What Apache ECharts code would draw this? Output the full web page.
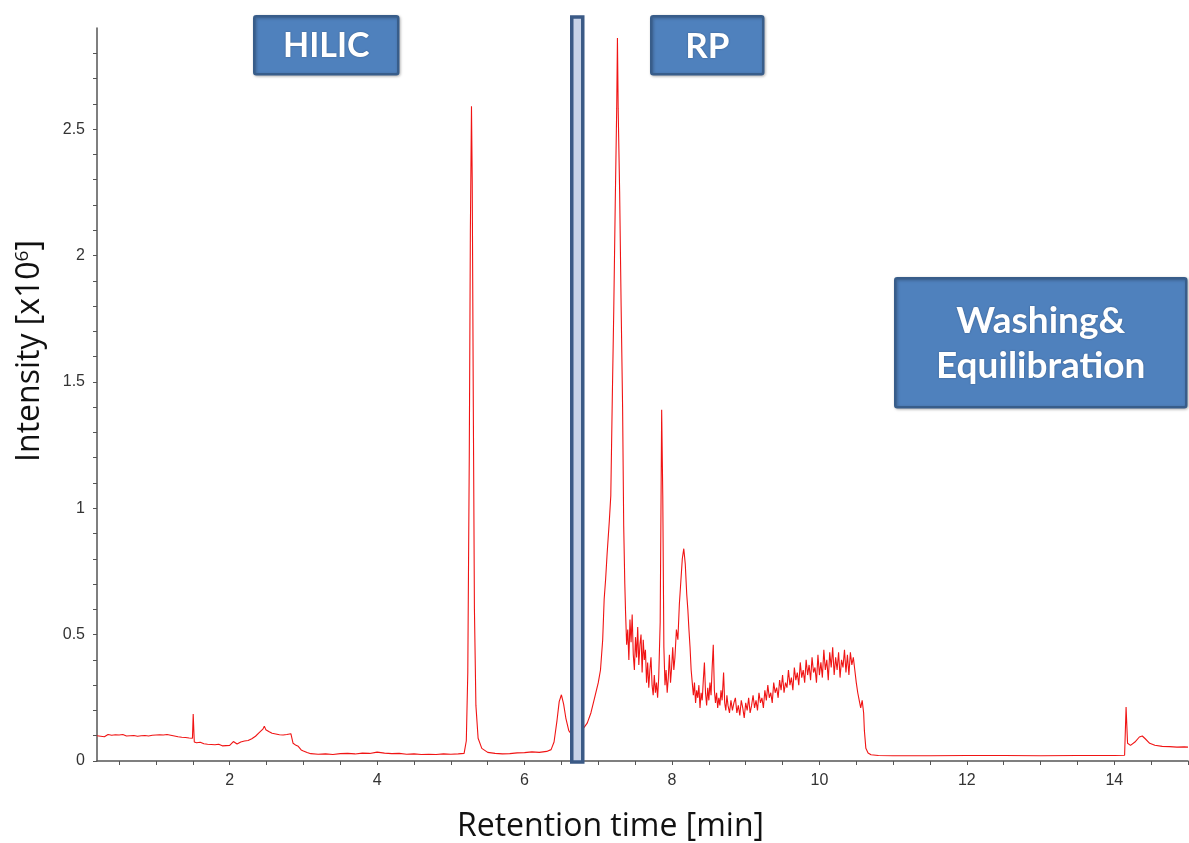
<!DOCTYPE html>
<html>
<head>
<meta charset="utf-8">
<script src="https://cdn.jsdelivr.net/npm/echarts@6/dist/echarts.min.js"></script>
<style>
html,body{margin:0;padding:0;background:#fff;}
#chart{width:1189px;height:843px;}
</style>
</head>
<body>
<div id="chart"></div>
<script>
// ---- Data (retention time [min], intensity [x10^6]) ----
const hilicBaseline = [
  [0.200,0.100],[0.225,0.104],[0.250,0.098],[0.275,0.103],[0.300,0.096],[0.325,0.101],[0.350,0.105],[0.375,0.099],
  [0.400,0.102],[0.425,0.097],[0.450,0.104],[0.475,0.100],[0.500,0.103],[0.525,0.098],[0.550,0.105],[0.575,0.101],
  [0.600,0.099],[0.625,0.104],[0.650,0.100],[0.675,0.106],[0.700,0.101],[0.725,0.104],[0.750,0.098],[0.775,0.103],
  [0.800,0.100],[0.825,0.106],[0.850,0.101],[0.875,0.104],[0.900,0.099],[0.925,0.105],[0.950,0.102],[0.975,0.108],
  [1.000,0.103],[1.025,0.099],[1.050,0.104],[1.075,0.097],[1.100,0.103],[1.125,0.100],[1.150,0.105],[1.175,0.099],
  [1.200,0.102],[1.225,0.096],[1.250,0.099],[1.275,0.094],[1.300,0.096],[1.325,0.092],[1.350,0.094],[1.375,0.091],
  [1.400,0.093],[1.425,0.089],[1.450,0.091],[1.475,0.088],[1.495,0.090],[1.505,0.186],[1.52,0.075],[1.55,0.072],
  [1.575,0.070],[1.60,0.074],[1.625,0.069],[1.65,0.068],[1.675,0.071],[1.70,0.066],[1.725,0.068],[1.75,0.065],
  [1.775,0.063],[1.80,0.064],[1.825,0.061],[1.85,0.066],[1.875,0.062],[1.90,0.060],[1.925,0.063],[1.95,0.061],
  [1.975,0.059],[2.00,0.062],[2.025,0.068],[2.05,0.077],[2.075,0.070],[2.10,0.067],[2.125,0.072],[2.15,0.075],
  [2.175,0.071],[2.20,0.079],[2.225,0.077],[2.25,0.081],[2.275,0.084],[2.30,0.088],[2.325,0.092],[2.35,0.098],
  [2.375,0.104],[2.40,0.112],[2.425,0.118],[2.45,0.126],[2.47,0.138],[2.49,0.124],[2.51,0.120],[2.53,0.117],
  [2.55,0.114],[2.575,0.110],[2.60,0.113],[2.625,0.107],[2.65,0.111],[2.675,0.104],[2.70,0.109],[2.725,0.103],
  [2.75,0.107],[2.775,0.105],[2.80,0.112],[2.83,0.108],[2.86,0.070],[2.90,0.062],[2.93,0.058],[2.97,0.044],
  [3.00,0.040],[3.05,0.034],[3.10,0.029],[3.20,0.027],[3.30,0.028],[3.40,0.026],[3.50,0.029],[3.60,0.030],
  [3.70,0.028],[3.80,0.031],[3.90,0.030],[4.00,0.035],[4.10,0.031],[4.20,0.029],[4.30,0.030],[4.40,0.027],
  [4.50,0.028],[4.60,0.026],[4.70,0.027],[4.80,0.026],[4.90,0.028],[5.00,0.027],[5.10,0.028],[5.18,0.030]
];
const hilicPeaks = [
  [5.21,0.08],[5.23,0.35],[5.25,1.20],[5.265,2.10],[5.28,2.59],[5.29,2.30],[5.305,1.40],[5.32,0.60],
  [5.34,0.22],[5.37,0.09],[5.42,0.05],[5.50,0.034],[5.60,0.030],[5.70,0.028],[5.80,0.029],[5.90,0.032],
  [6.00,0.033],[6.10,0.036],[6.20,0.034],[6.30,0.038],[6.36,0.045],[6.40,0.075],[6.44,0.16],[6.47,0.235],
  [6.50,0.262],[6.53,0.225],[6.56,0.17],[6.60,0.12],[6.65,0.10]
];
const rpPeaks = [
  [6.70,0.11],[6.75,0.12],[6.80,0.13],[6.85,0.15],[6.90,0.19],[6.95,0.25],[7.00,0.31],[7.03,0.36],
  [7.06,0.48],[7.08,0.64],[7.10,0.72],[7.12,0.82],[7.15,0.95],[7.17,1.05],[7.19,1.43],[7.21,1.78],
  [7.23,2.20],[7.25,2.58],[7.26,2.86],[7.27,2.58],[7.29,2.25],[7.31,1.80],[7.33,1.40],[7.345,0.93],
  [7.36,0.70],[7.37,0.59],[7.385,0.46],[7.40,0.52],[7.415,0.40],[7.43,0.56],[7.445,0.47],[7.46,0.58],
  [7.475,0.42],[7.49,0.36],[7.505,0.49],[7.52,0.41],[7.535,0.53],[7.55,0.38],[7.565,0.46],[7.58,0.50],
  [7.595,0.35],[7.61,0.48],[7.625,0.40],[7.64,0.44],[7.655,0.31],[7.67,0.39],[7.685,0.29],[7.70,0.36],
  [7.715,0.41],[7.73,0.30],[7.745,0.26],[7.76,0.34],[7.775,0.27],[7.79,0.31],[7.805,0.25],[7.82,0.33],
  [7.84,0.55],[7.86,1.39],[7.875,1.05],[7.89,0.45],[7.905,0.30],[7.92,0.36],[7.935,0.27],[7.95,0.33],
  [7.965,0.42],[7.98,0.31],[7.995,0.37],[8.01,0.45],[8.025,0.36],[8.04,0.41],[8.06,0.52],[8.08,0.48],
  [8.10,0.62],[8.12,0.71],[8.14,0.80],[8.16,0.84],[8.18,0.78],[8.20,0.66],[8.215,0.60],[8.23,0.52],
  [8.245,0.45],[8.26,0.36],[8.275,0.31],[8.29,0.26],[8.305,0.31],[8.32,0.23],[8.335,0.28],[8.35,0.25],
  [8.365,0.30],[8.38,0.21],[8.395,0.27],[8.41,0.24],[8.425,0.32],[8.44,0.39],[8.455,0.27],[8.47,0.22],
  [8.485,0.29],[8.50,0.24],[8.515,0.31],[8.53,0.26],[8.545,0.37],[8.56,0.46],[8.575,0.28],[8.59,0.23],
  [8.605,0.27],[8.62,0.21],[8.635,0.25],[8.65,0.22],[8.665,0.28],[8.68,0.24],[8.70,0.35],[8.715,0.23],
  [8.73,0.20],[8.745,0.26],[8.76,0.22],[8.78,0.19]
];
const rpHump = [
  [8.80,0.24],[8.82,0.20],[8.84,0.23],[8.86,0.25],[8.88,0.19],[8.90,0.22],[8.92,0.18],[8.94,0.24],
  [8.96,0.21],[8.98,0.17],[9.00,0.23],[9.02,0.20],[9.04,0.25],[9.06,0.19],[9.08,0.22],[9.10,0.26],
  [9.12,0.21],[9.14,0.24],[9.16,0.20],[9.18,0.27],[9.20,0.23],[9.22,0.25],[9.24,0.21],[9.26,0.28],
  [9.28,0.24],[9.30,0.30],[9.32,0.25],[9.34,0.27],[9.36,0.23],[9.38,0.31],[9.40,0.27],[9.42,0.29],
  [9.44,0.25],[9.46,0.32],[9.48,0.28],[9.50,0.34],[9.52,0.27],[9.54,0.31],[9.56,0.29],[9.58,0.36],
  [9.60,0.30],[9.62,0.33],[9.64,0.28],[9.66,0.37],[9.68,0.32],[9.70,0.35],[9.72,0.30],[9.74,0.39],
  [9.76,0.33],[9.78,0.36],[9.80,0.31],[9.82,0.40],[9.84,0.34],[9.86,0.38],[9.88,0.32],[9.90,0.41],
  [9.92,0.35],[9.94,0.37],[9.96,0.31],[9.98,0.42],[10.00,0.34],[10.02,0.39],[10.04,0.33],[10.06,0.44],
  [10.08,0.36],[10.10,0.40],[10.12,0.32],[10.14,0.43],[10.16,0.37],[10.18,0.45],[10.20,0.34],[10.22,0.41],
  [10.24,0.36],[10.26,0.43],[10.28,0.33],[10.30,0.40],[10.32,0.37],[10.34,0.44],[10.36,0.35],[10.38,0.42],
  [10.40,0.34],[10.42,0.43],[10.44,0.38],[10.46,0.41],[10.48,0.36],[10.50,0.31],[10.52,0.27],[10.54,0.24],
  [10.56,0.21],[10.58,0.24],[10.60,0.19],[10.61,0.12],[10.63,0.05],[10.66,0.032]
];
const washing = [
  [10.70,0.025],[10.80,0.022],[11.00,0.021],[11.50,0.021],[12.00,0.022],[12.50,0.022],[13.00,0.021],
  [13.50,0.022],[14.00,0.022],[14.14,0.023],[14.16,0.214],[14.18,0.070],[14.22,0.062],[14.28,0.075],
  [14.34,0.095],[14.38,0.099],[14.42,0.088],[14.48,0.070],[14.55,0.062],[14.65,0.058],[14.75,0.057],
  [14.85,0.055],[14.95,0.056],[15.00,0.055]
];
const xLabelValues = [2, 4, 6, 8, 10, 12, 14];
const xTickValues = [0.5,1,1.5,2,2.5,3,3.5,4,4.5,5,5.5,6,6.5,7,7.5,8,8.5,9,9.5,10,10.5,11,11.5,12,12.5,13,13.5,14,14.5,15];
const yLabelValues = [0, 0.5, 1, 1.5, 2, 2.5];
const yTickValues = [0,0.1,0.2,0.3,0.4,0.5,0.6,0.7,0.8,0.9,1,1.1,1.2,1.3,1.4,1.5,1.6,1.7,1.8,1.9,2,2.1,2.2,2.3,2.4,2.5,2.6,2.7,2.8];
const phaseSwitch = [6.62, 6.81]; // gradient switch marker (min)

const chromatogram = hilicBaseline.concat(hilicPeaks, rpPeaks, rpHump, washing);

const chart = echarts.init(document.getElementById('chart'), null, {renderer: 'canvas'});
const axisColor = '#555';
chart.setOption({
  animation: false,
  backgroundColor: '#ffffff',
  grid: {left: 97, right: 1, top: 28, bottom: 82, containLabel: false, outerBoundsMode: 'none'},
  xAxis: {
    type: 'value', min: 0.2, max: 15,
    name: 'Retention time [min]', nameLocation: 'middle', nameGap: 50,
    nameTextStyle: {fontFamily: 'Open Sans', fontSize: 32, color: '#111', padding: [0, 64, 0, 0]},
    axisLine: {lineStyle: {color: axisColor, width: 1.5}},
    axisTick: {show: true, length: 4, customValues: xTickValues, lineStyle: {color: axisColor}},
    axisLabel: {customValues: xLabelValues, fontFamily: 'Liberation Sans', fontSize: 16, color: '#333', margin: 12},
    splitLine: {show: false}
  },
  yAxis: {
    type: 'value', min: 0, max: 2.9,
    name: 'Intensity [x10{sup|6}]', nameLocation: 'middle', nameGap: 51, nameRotate: 90,
    nameTextStyle: {fontFamily: 'Open Sans', fontSize: 32, color: '#111', padding: [0, 0, 0, 87],
      rich: {sup: {fontFamily: 'Open Sans', fontSize: 19, color: '#111', verticalAlign: 'top', padding: [0, 0, 14, 0]}}},
    axisLine: {show: true, lineStyle: {color: axisColor, width: 1.5}},
    axisTick: {show: true, length: 4, customValues: yTickValues, lineStyle: {color: axisColor}},
    axisLabel: {customValues: yLabelValues, fontFamily: 'Liberation Sans', fontSize: 16, color: '#333', margin: 12},
    splitLine: {show: false}
  },
  series: [{
    type: 'line', data: chromatogram, showSymbol: false, symbol: 'none',
    lineStyle: {color: '#f01414', width: 1.1}, z: 2
  }]
});

function box(left, top, w, h, text, fontSize, lineHeight) {
  return {
    type: 'group', left: left, top: top, z: 10,
    children: [
      {type: 'rect', shape: {x: 0, y: 0, width: w, height: h, r: 2},
       style: {fill: '#4f81bd', stroke: '#385d8a', lineWidth: 2.5,
               shadowBlur: 3, shadowColor: 'rgba(0,0,0,0.25)', shadowOffsetX: 1, shadowOffsetY: 1}},
      {type: 'text', x: w / 2, y: h / 2 + 1,
       style: {text: text, fill: '#ffffff', font: 'bold ' + fontSize + 'px Lato', lineHeight: lineHeight,
               align: 'center', verticalAlign: 'middle', textShadowBlur: 2, textShadowColor: 'rgba(0,0,0,0.3)'}}
    ]
  };
}
const xa = chart.convertToPixel({gridIndex: 0}, [phaseSwitch[0], 0]);
const xb = chart.convertToPixel({gridIndex: 0}, [phaseSwitch[1], 0]);
chart.setOption({
  graphic: [
    box(253, 15, 144, 58, 'HILIC', 34, 40),
    box(650, 15, 112, 58, 'RP', 35, 40),
    box(894, 277, 291, 129, 'Washing&\nEquilibration', 37, 45),
    {type: 'rect', z: 12, shape: {x: xa[0] + 1.5, y: 17, width: xb[0] - xa[0] - 3, height: 745},
     style: {fill: '#c8d3e8', stroke: '#3b5a86', lineWidth: 3.5}}
  ]
});
</script>
</body>
</html>
